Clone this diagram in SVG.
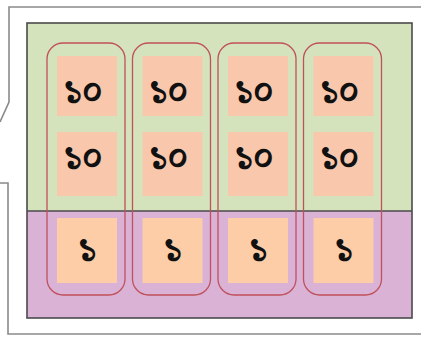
<svg xmlns="http://www.w3.org/2000/svg" width="421" height="339" viewBox="0 0 421 339">
<style>
.frame{fill:none;stroke:#8a8a8a;stroke-width:1.6}
.col{fill:none;stroke:#c0505a;stroke-width:1.3}
.cell{fill:#f9c8ac}
.cellb{fill:#fccda6}
.t{font-family:"Noto Serif Bengali","Noto Sans Bengali","Lohit Bengali","Noto Sans","DejaVu Sans",serif;font-size:34px;font-weight:bold;fill:#111;text-anchor:middle}
</style>
<rect width="421" height="339" fill="#ffffff"/>
<g id="frame">
<polyline class="frame" points="421,7 9,7 9,102 0,122"/>
<polyline class="frame" points="0,183 8,183 8,334 421,334"/>
</g>
<g id="board">
<rect x="27" y="23" width="385" height="188" fill="#d5e3bd"/>
<rect x="27" y="211" width="385" height="107" fill="#d9b2d6"/>
<rect x="27" y="23" width="385" height="295" fill="none" stroke="#4a4a4a" stroke-width="1.6"/>
<line x1="27" y1="211" x2="412" y2="211" stroke="#4a4a4a" stroke-width="1.4"/>
</g>
<g id="col1">
<rect class="cell" x="57" y="56" width="60" height="60"/>
<rect class="cell" x="57" y="132" width="60" height="64"/>
<rect class="cellb" x="57" y="218" width="60" height="65"/>
<rect class="col" x="47" y="43" width="78" height="252" rx="16"/>
<text class="t" x="83" y="102">১০</text>
<text class="t" x="83" y="168">১০</text>
<text class="t" x="87" y="260">১</text>
</g>
<g id="col2">
<rect class="cell" x="142.5" y="56" width="60" height="60"/>
<rect class="cell" x="142.5" y="132" width="60" height="64"/>
<rect class="cellb" x="142.5" y="218" width="60" height="65"/>
<rect class="col" x="132.5" y="43" width="78" height="252" rx="16"/>
<text class="t" x="168.5" y="102">১০</text>
<text class="t" x="168.5" y="168">১০</text>
<text class="t" x="172.5" y="260">১</text>
</g>
<g id="col3">
<rect class="cell" x="228" y="56" width="60" height="60"/>
<rect class="cell" x="228" y="132" width="60" height="64"/>
<rect class="cellb" x="228" y="218" width="60" height="65"/>
<rect class="col" x="218" y="43" width="78" height="252" rx="16"/>
<text class="t" x="254" y="102">১০</text>
<text class="t" x="254" y="168">১০</text>
<text class="t" x="258" y="260">১</text>
</g>
<g id="col4">
<rect class="cell" x="313.5" y="56" width="60" height="60"/>
<rect class="cell" x="313.5" y="132" width="60" height="64"/>
<rect class="cellb" x="313.5" y="218" width="60" height="65"/>
<rect class="col" x="303.5" y="43" width="78" height="252" rx="16"/>
<text class="t" x="339.5" y="102">১০</text>
<text class="t" x="339.5" y="168">১০</text>
<text class="t" x="343.5" y="260">১</text>
</g>
<g id="connectors"></g>
</svg>
